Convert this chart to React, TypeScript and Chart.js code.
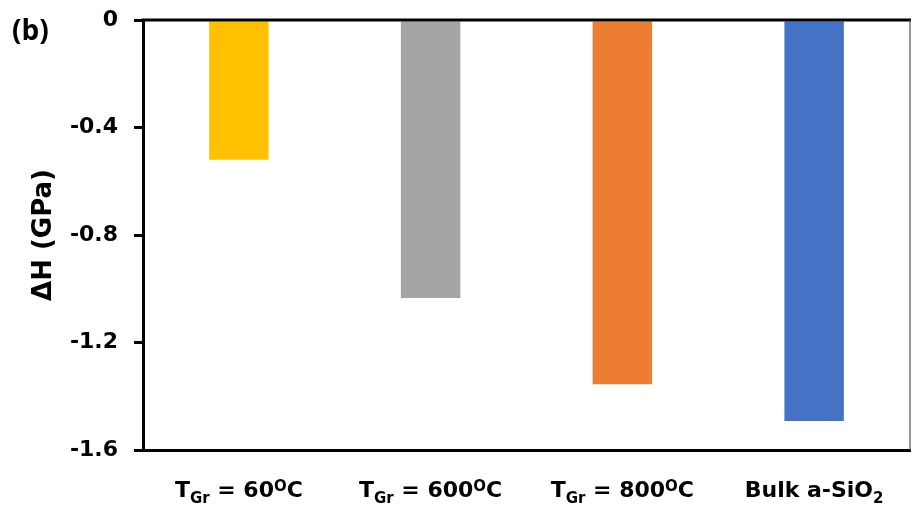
import { useEffect, useRef } from "react";
import { Chart, registerables } from "chart.js";

Chart.register(...registerables);

// Hardness change per sample; category labels use "_" for subscript and "^" for superscript runs.
const categories = ["T_{Gr} = 60^{O}C", "T_{Gr} = 600^{O}C", "T_{Gr} = 800^{O}C", "Bulk a-SiO_{2}"];
const deltaH = [-0.52, -1.034, -1.355, -1.492];
const barColors = ["#FFC000", "#A5A5A5", "#ED7D31", "#4472C4"];
const yTicks = [0, -0.4, -0.8, -1.2, -1.6];
const yTitle = "ΔH (GPa)";
const panelTag = "(b)";

const FONT = '"DejaVu Sans"';

type Seg = { text: string; kind: "n" | "sub" | "sup" };

function parseLabel(label: string): Seg[] {
  const segs: Seg[] = [];
  const re = /([_^])\{([^}]*)\}/g;
  let last = 0;
  let m: RegExpExecArray | null;
  while ((m = re.exec(label))) {
    if (m.index > last) segs.push({ text: label.slice(last, m.index), kind: "n" });
    segs.push({ text: m[2], kind: m[1] === "_" ? "sub" : "sup" });
    last = re.lastIndex;
  }
  if (last < label.length) segs.push({ text: label.slice(last), kind: "n" });
  return segs;
}

function segFont(kind: Seg["kind"]) {
  if (kind === "sub") return `bold 15px ${FONT}`;
  if (kind === "sup") return `bold 15px ${FONT}`;
  return `bold 22px ${FONT}`;
}

function drawRichLabel(ctx: CanvasRenderingContext2D, label: string, cx: number, baseline: number) {
  const segs = parseLabel(label);
  const widths = segs.map((s) => {
    ctx.font = segFont(s.kind);
    return ctx.measureText(s.text).width;
  });
  const total = widths.reduce((a, b) => a + b, 0);
  let x = cx - total / 2;
  segs.forEach((s, i) => {
    ctx.font = segFont(s.kind);
    const dy = s.kind === "sub" ? 6 : s.kind === "sup" ? -6 : 0;
    ctx.fillText(s.text, x, baseline + dy);
    x += widths[i];
  });
}

const decorations = {
  id: "decorations",
  afterDraw(chart: Chart) {
    const { ctx, chartArea } = chart;
    const { left, right, top, bottom } = chartArea;
    ctx.save();

    // frame: heavy top edge, thin right edge
    ctx.strokeStyle = "#000";
    ctx.lineWidth = 3;
    ctx.beginPath();
    ctx.moveTo(left - 1.5, top);
    ctx.lineTo(right + 1, top);
    ctx.stroke();
    ctx.strokeStyle = "#555";
    ctx.lineWidth = 1.2;
    ctx.beginPath();
    ctx.moveTo(right, top);
    ctx.lineTo(right, bottom);
    ctx.stroke();

    // category labels with sub/superscripts
    ctx.fillStyle = "#000";
    ctx.textAlign = "left";
    ctx.textBaseline = "alphabetic";
    const xScale = chart.scales.x;
    categories.forEach((c, i) => {
      drawRichLabel(ctx, c, xScale.getPixelForValue(i), 497);
    });

    // y-axis title
    ctx.save();
    ctx.translate(44, (top + bottom) / 2);
    ctx.rotate(-Math.PI / 2);
    ctx.textAlign = "center";
    ctx.textBaseline = "middle";
    ctx.font = `bold 26px ${FONT}`;
    ctx.fillText(yTitle, 0, 0);
    ctx.restore();

    // panel tag
    ctx.font = 'bold 28px "Open Sans"';
    ctx.textAlign = "left";
    ctx.textBaseline = "alphabetic";
    ctx.fillText(panelTag, 12, 40);

    ctx.restore();
  },
};

export default function App() {
  const canvasRef = useRef<HTMLCanvasElement | null>(null);

  useEffect(() => {
    document.body.style.margin = "0";
    const canvas = canvasRef.current;
    if (!canvas) return;
    const chart = new Chart(canvas, {
      type: "bar",
      data: {
        labels: categories,
        datasets: [
          {
            data: deltaH,
            backgroundColor: barColors,
            borderWidth: 0,
            categoryPercentage: 1,
            barPercentage: 0.31,
          },
        ],
      },
      options: {
        responsive: false,
        animation: false,
        devicePixelRatio: 1,
        layout: { padding: { top: 20, right: 2, left: 0, bottom: 0 } },
        plugins: {
          legend: { display: false },
          tooltip: { enabled: false },
        },
        scales: {
          x: {
            grid: { display: false, drawTicks: false },
            border: { display: true, color: "#000", width: 3 },
            ticks: { display: false },
            afterFit: (s: any) => {
              s.height = 62;
              s.paddingLeft = 0;
              s.paddingRight = 0;
            },
          },
          y: {
            min: -1.6,
            max: 0,
            afterBuildTicks: (s: any) => {
              s.ticks = yTicks.map((v) => ({ value: v }));
            },
            ticks: {
              callback: (v: any) => (Number(v) === 0 ? "0" : Number(v).toFixed(1)),
              font: { family: FONT, weight: "bold", size: 22 },
              color: "#000",
              padding: 16,
            },
            grid: {
              drawOnChartArea: false,
              drawTicks: true,
              tickLength: 9,
              color: "#000",
              lineWidth: 3,
            },
            border: { display: true, color: "#000", width: 3 },
            afterFit: (s: any) => {
              s.width = 143;
              s.paddingTop = 0;
              s.paddingBottom = 0;
            },
          },
        },
      },
      plugins: [decorations],
    });
    return () => chart.destroy();
  }, []);

  return (
    <div style={{ position: "fixed", left: 0, top: 0, width: 912, height: 512, background: "#fff" }}>
      <canvas ref={canvasRef} width={912} height={512} />
    </div>
  );
}
